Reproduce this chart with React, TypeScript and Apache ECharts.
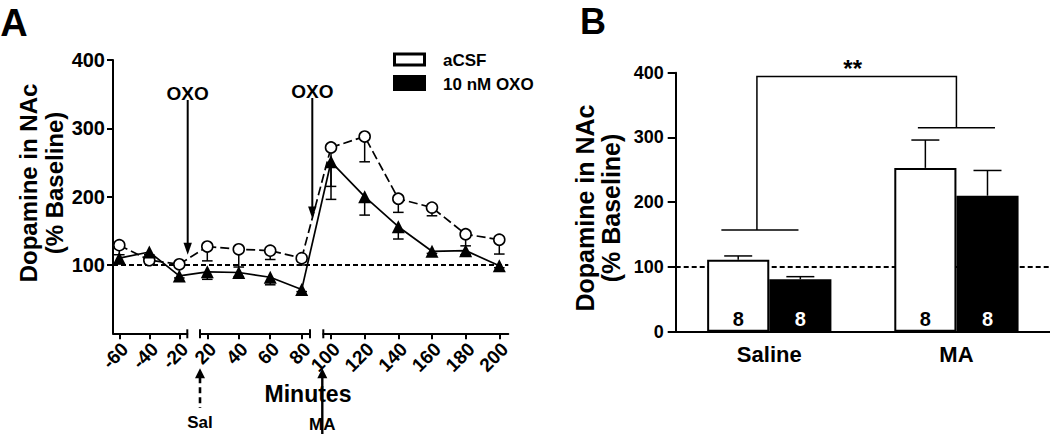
import React, { useEffect, useRef } from 'react';
import * as echarts from 'echarts';

const FONT = '"Liberation Sans", Arial, Helvetica, sans-serif';

// ---------- Panel A: time course ----------
const minutes = [-60, -40, -20, 20, 40, 60, 80, 100, 120, 140, 160, 180, 200];
const acsfMean = [129, 107, 101, 127, 123, 121, 110, 272, 288, 197, 184, 145, 137];
const acsfSem = [14, 5, 3, 21, 26, 13, 10, 57, 37, 20, 12, 17, 21];
const oxoMean = [110, 119, 84, 90, 89, 82, 64, 251, 200, 156, 120, 121, 99];
const oxoSem = [8, 4, 3, 11, 6, 11, 3, 55, 27, 18, 3, 6, 3];
const yTicksA = [100, 200, 300, 400];
const seriesNames = ['aCSF', '10 nM OXO'];
const baseline = 100;
const oxoArrowTips = [115, 168];

// ---------- Panel B: bars ----------
const groups = ['Saline', 'MA'];
const barAcsf = [111, 253];
const barAcsfSem = [6, 43];
const barOxo = [81, 210];
const barOxoSem = [4, 39];
const nPerBar = [8, 8];
const yTicksB = [0, 100, 200, 300, 400];
const bracketValues = [394, 157, 315];
const sigLabel = '**';

// ---------- layout ----------
const A_TOP = 60;
const A_BOTTOM = 333.3;
const SEGMENTS = [
  { min: -64.2, max: -14.67, left: 113, right: 187.3 },
  { min: 15.36, max: 85.28, left: 200, right: 310 },
  { min: 95.42, max: 205.35, left: 323.3, right: 508.3 },
];
const B_LEFT = 675.7;
const B_TOP = 72.7;
const B_WIDTH = 374.3;
const B_HEIGHT = 259;
const BAR_FRAC = 0.332;

const segIdx = (s: number) =>
  minutes.map((_, i) => i).filter((i) => minutes[i] >= SEGMENTS[s].min && minutes[i] <= SEGMENTS[s].max);

function errRender(params: any, api: any) {
  const x = api.value(0);
  const m = api.value(1);
  const s = api.value(2);
  const p0 = api.coord([x, m]);
  const p1 = api.coord([x, m - s]);
  const hw = 5.3;
  const st = { stroke: '#000', lineWidth: 1.5 };
  return {
    type: 'group',
    children: [
      { type: 'line', shape: { x1: p0[0], y1: p0[1], x2: p1[0], y2: p1[1] }, style: st },
      { type: 'line', shape: { x1: p1[0] - hw, y1: p1[1], x2: p1[0] + hw, y2: p1[1] }, style: st },
    ],
  };
}

function barErrRender(params: any, api: any) {
  const bw = api.size([1, 0])[0];
  const c = api.value(0);
  const m = api.value(1);
  const s = api.value(2);
  const side = api.value(3);
  const p0 = api.coord([c, m]);
  const p1 = api.coord([c, m + s]);
  const x = p0[0] + (side * bw * BAR_FRAC) / 2;
  const hw = 14;
  const st = { stroke: '#000', lineWidth: 1.5 };
  return {
    type: 'group',
    children: [
      { type: 'line', shape: { x1: x, y1: p0[1], x2: x, y2: p1[1] }, style: st },
      { type: 'line', shape: { x1: x - hw, y1: p1[1], x2: x + hw, y2: p1[1] }, style: st },
    ],
  };
}

function bracketRender(params: any, api: any) {
  const bw = api.size([1, 0])[0];
  const xl = api.coord([api.value(0), 0])[0] - 0.066 * bw;
  const xr = api.coord([api.value(1), 0])[0];
  const yTop = api.coord([0, api.value(2)])[1];
  const yL = api.coord([0, api.value(3)])[1];
  const yR = api.coord([0, api.value(4)])[1];
  const half = 0.206 * bw;
  const st = { stroke: '#000', lineWidth: 1.5, fill: null };
  return {
    type: 'group',
    children: [
      { type: 'polyline', shape: { points: [[xl, yL], [xl, yTop], [xr, yTop], [xr, yR]] }, style: st },
      { type: 'line', shape: { x1: xl - half + 3, y1: yL, x2: xl + half + 3, y2: yL }, style: st },
      { type: 'line', shape: { x1: xr - half, y1: yR, x2: xr + half, y2: yR }, style: st },
      {
        type: 'text',
        x: (xl + xr) / 2 - 4,
        y: yTop - 8,
        style: { text: sigLabel, fill: '#000', fontSize: 24, fontWeight: 'bold', fontFamily: FONT, align: 'center', verticalAlign: 'middle' },
      },
    ],
  };
}

function buildOption(): any {
  const grid: any[] = SEGMENTS.map((s) => ({
    left: s.left,
    top: A_TOP,
    width: s.right - s.left,
    height: A_BOTTOM - A_TOP,
    containLabel: false,
    outerBoundsMode: 'none',
  }));
  grid.push({ left: B_LEFT, top: B_TOP, width: B_WIDTH, height: B_HEIGHT, containLabel: false, outerBoundsMode: 'none' });

  const xAxis: any[] = SEGMENTS.map((s, g) => {
    const ticks = segIdx(g).map((i) => minutes[i]);
    return {
      type: 'value',
      gridIndex: g,
      min: s.min,
      max: s.max,
      axisLine: { show: true, onZero: false, lineStyle: { color: '#000', width: 2 } },
      axisTick: { show: true, customValues: ticks, length: 6, lineStyle: { color: '#000', width: 2 } },
      axisLabel: {
        show: true,
        customValues: ticks,
        rotate: 45,
        margin: 7,
        fontSize: 19,
        fontWeight: 'bold',
        fontFamily: FONT,
        color: '#000',
        verticalAlign: 'top',
        lineHeight: 16,
        formatter: (v: number) => String(v),
      },
      splitLine: { show: false },
    };
  });
  xAxis.push({
    type: 'category',
    gridIndex: 3,
    data: groups,
    axisLine: { show: true, lineStyle: { color: '#000', width: 2 } },
    axisTick: { show: false },
    axisLabel: { margin: 12, fontSize: 22, fontWeight: 'bold', fontFamily: FONT, color: '#000' },
  });

  const yAxis: any[] = SEGMENTS.map((s, g) => ({
    type: 'value',
    gridIndex: g,
    min: 0,
    max: 400,
    interval: 100,
    show: g === 0,
    axisLine: { show: true, lineStyle: { color: '#000', width: 2 } },
    axisTick: { show: true, customValues: yTicksA, length: 6, lineStyle: { color: '#000', width: 2 } },
    axisLabel: { customValues: yTicksA, margin: 8, fontSize: 20, fontWeight: 'bold', fontFamily: FONT, color: '#000' },
    splitLine: { show: false },
  }));
  yAxis.push({
    type: 'value',
    gridIndex: 3,
    min: 0,
    max: 400,
    interval: 100,
    axisLine: { show: true, lineStyle: { color: '#000', width: 2 } },
    axisTick: { show: true, customValues: yTicksB, length: 8, lineStyle: { color: '#000', width: 2 } },
    axisLabel: { customValues: yTicksB, margin: 12, fontSize: 18, fontWeight: 'bold', fontFamily: FONT, color: '#000' },
    splitLine: { show: false },
  });

  const series: any[] = [];
  SEGMENTS.forEach((_, g) => {
    const idx = segIdx(g);
    series.push({
      type: 'custom',
      xAxisIndex: g,
      yAxisIndex: g,
      z: 1,
      renderItem: errRender,
      data: idx.map((i) => [minutes[i], acsfMean[i], acsfSem[i]]),
    });
    series.push({
      type: 'custom',
      xAxisIndex: g,
      yAxisIndex: g,
      z: 1,
      renderItem: errRender,
      data: idx.map((i) => [minutes[i], oxoMean[i], oxoSem[i]]),
    });
    series.push({
      name: seriesNames[0],
      type: 'line',
      xAxisIndex: g,
      yAxisIndex: g,
      clip: false,
      symbol: 'circle',
      symbolSize: 11,
      itemStyle: { color: '#fff', borderColor: '#000', borderWidth: 1.6 },
      lineStyle: { color: '#000', width: 1.7, type: [9, 4] },
      data: idx.map((i) => [minutes[i], acsfMean[i]]),
    });
    series.push({
      name: seriesNames[1],
      type: 'line',
      xAxisIndex: g,
      yAxisIndex: g,
      clip: false,
      symbol: 'triangle',
      symbolSize: 13,
      itemStyle: { color: '#000' },
      lineStyle: { color: '#000', width: 1.7 },
      data: idx.map((i) => [minutes[i], oxoMean[i]]),
    });
  });

  const barLabel = (color: string) => ({
    show: true,
    position: 'insideBottom',
    distance: 3,
    color,
    fontSize: 20,
    fontWeight: 'bold',
    fontFamily: FONT,
    formatter: (p: any) => String(nPerBar[p.dataIndex]),
  });
  series.push({
    name: seriesNames[0],
    type: 'bar',
    xAxisIndex: 3,
    yAxisIndex: 3,
    barWidth: BAR_FRAC * 100 + '%',
    barGap: '0%',
    z: 2,
    itemStyle: { color: '#fff', borderColor: '#000', borderWidth: 2 },
    label: barLabel('#000'),
    data: barAcsf,
  });
  series.push({
    name: seriesNames[1],
    type: 'bar',
    xAxisIndex: 3,
    yAxisIndex: 3,
    barWidth: BAR_FRAC * 100 + '%',
    barGap: '0%',
    z: 2,
    itemStyle: { color: '#000', borderColor: '#000', borderWidth: 2 },
    label: barLabel('#fff'),
    data: barOxo,
  });
  series.push({
    type: 'custom',
    xAxisIndex: 3,
    yAxisIndex: 3,
    z: 3,
    renderItem: barErrRender,
    data: [
      ...groups.map((_, c) => [c, barAcsf[c], barAcsfSem[c], -1]),
      ...groups.map((_, c) => [c, barOxo[c], barOxoSem[c], 1]),
    ],
  });
  series.push({
    type: 'custom',
    xAxisIndex: 3,
    yAxisIndex: 3,
    z: 3,
    renderItem: bracketRender,
    data: [[0, 1, bracketValues[0], bracketValues[1], bracketValues[2]]],
  });

  return { animation: false, backgroundColor: '#fff', grid, xAxis, yAxis, series };
}

function buildGraphics(chart: any): any[] {
  const px = (g: number, x: number, y: number) => chart.convertToPixel({ gridIndex: g }, [x, y]) as number[];
  const els: any[] = [];
  const line = (x1: number, y1: number, x2: number, y2: number, w: number, z: number, dash?: number[]) => ({
    type: 'line',
    z,
    silent: true,
    shape: { x1, y1, x2, y2 },
    style: { stroke: '#000', lineWidth: w, lineDash: dash || null },
  });
  const text = (x: number, y: number, t: string, size: number, extra: any = {}) => ({
    type: 'text',
    x,
    y,
    z: 6,
    silent: true,
    style: { text: t, fill: '#000', fontSize: size, fontWeight: 'bold', fontFamily: FONT, align: 'center', verticalAlign: 'middle', ...extra },
  });

  // baseline dashed lines
  const yb = px(0, SEGMENTS[0].min, baseline)[1];
  els.push(line(SEGMENTS[0].left, yb, SEGMENTS[2].right, yb, 2, 0, [5, 3]));
  const ybB = px(3, 0, baseline)[1];
  els.push(line(B_LEFT, ybB, B_LEFT + B_WIDTH, ybB, 2, 0, [5, 3]));

  // axis break caps
  [SEGMENTS[0].right, SEGMENTS[1].left, SEGMENTS[1].right, SEGMENTS[2].left].forEach((x) => {
    els.push(line(x, A_BOTTOM - 4, x, A_BOTTOM + 5, 2, 5));
  });

  // connectors across breaks
  for (let s = 0; s < 2; s++) {
    const a = segIdx(s);
    const b = segIdx(s + 1);
    const i = a[a.length - 1];
    const j = b[0];
    const p1 = px(s, minutes[i], acsfMean[i]);
    const p2 = px(s + 1, minutes[j], acsfMean[j]);
    els.push(line(p1[0], p1[1], p2[0], p2[1], 1.7, 1, [9, 4]));
    const q1 = px(s, minutes[i], oxoMean[i]);
    const q2 = px(s + 1, minutes[j], oxoMean[j]);
    els.push(line(q1[0], q1[1], q2[0], q2[1], 1.7, 1));
  }

  // OXO arrows
  const oxoX = [SEGMENTS[0].right + 0.4, SEGMENTS[1].right + 2.3];
  const oxoTextY = [93, 91];
  oxoX.forEach((x, k) => {
    const tip = px(0, SEGMENTS[0].min, oxoArrowTips[k])[1];
    els.push(text(x, oxoTextY[k], 'OXO', 19));
    els.push(line(x, oxoTextY[k] + 7, x, tip - 8, 2, 5));
    els.push({ type: 'polygon', z: 5, silent: true, shape: { points: [[x, tip], [x - 4.2, tip - 12], [x + 4.2, tip - 12]] }, style: { fill: '#000' } });
  });

  // Sal / MA arrows under the axis
  const upArrows = [
    { x: SEGMENTS[1].left, label: 'Sal', bottom: 408, dash: [6, 4], w: 2.6, ty: 422 },
    { x: SEGMENTS[2].left - 1, label: 'MA', bottom: 434, dash: undefined, w: 2.4, ty: 424 },
  ];
  upArrows.forEach((a) => {
    const tip = 368.3;
    els.push({ type: 'polygon', z: 5, silent: true, shape: { points: [[a.x, tip], [a.x - 5, tip + 10], [a.x + 5, tip + 10]] }, style: { fill: '#000' } });
    els.push(line(a.x, tip + 9, a.x, a.bottom, a.w, 5, a.dash));
    els.push(text(a.x, a.ty, a.label, 17));
  });

  // axis titles
  els.push(text(308, 394, 'Minutes', 23));
  els.push(text(41.7, 183, 'Dopamine in NAc\n(% Baseline)', 24, { lineHeight: 26.5 }));
  els[els.length - 1].rotation = Math.PI / 2;
  els.push(text(598, 208, 'Dopamine in NAc\n(% Baseline)', 25, { lineHeight: 26 }));
  els[els.length - 1].rotation = Math.PI / 2;

  // panel letters
  els.push(text(14, 23, 'A', 38));
  els.push(text(593, 21, 'B', 36));

  // legend
  els.push({ type: 'rect', z: 5, silent: true, shape: { x: 394.5, y: 54, width: 30, height: 11 }, style: { fill: '#fff', stroke: '#000', lineWidth: 3 } });
  els.push({ type: 'rect', z: 5, silent: true, shape: { x: 393, y: 75, width: 33, height: 16 }, style: { fill: '#000' } });
  els.push(text(443, 60.5, seriesNames[0], 17, { align: 'left' }));
  els.push(text(443, 84, seriesNames[1], 17, { align: 'left' }));

  return els;
}

export default function App() {
  const ref = useRef<HTMLDivElement>(null);
  useEffect(() => {
    const el = ref.current;
    if (!el) return;
    const chart = echarts.init(el, undefined, { renderer: 'svg' });
    chart.setOption(buildOption());
    chart.setOption({ graphic: buildGraphics(chart) });
    return () => chart.dispose();
  }, []);
  return (
    <div
      ref={ref}
      style={{ position: 'absolute', left: 0, top: 0, width: 1050, height: 434, background: '#fff' }}
    />
  );
}
